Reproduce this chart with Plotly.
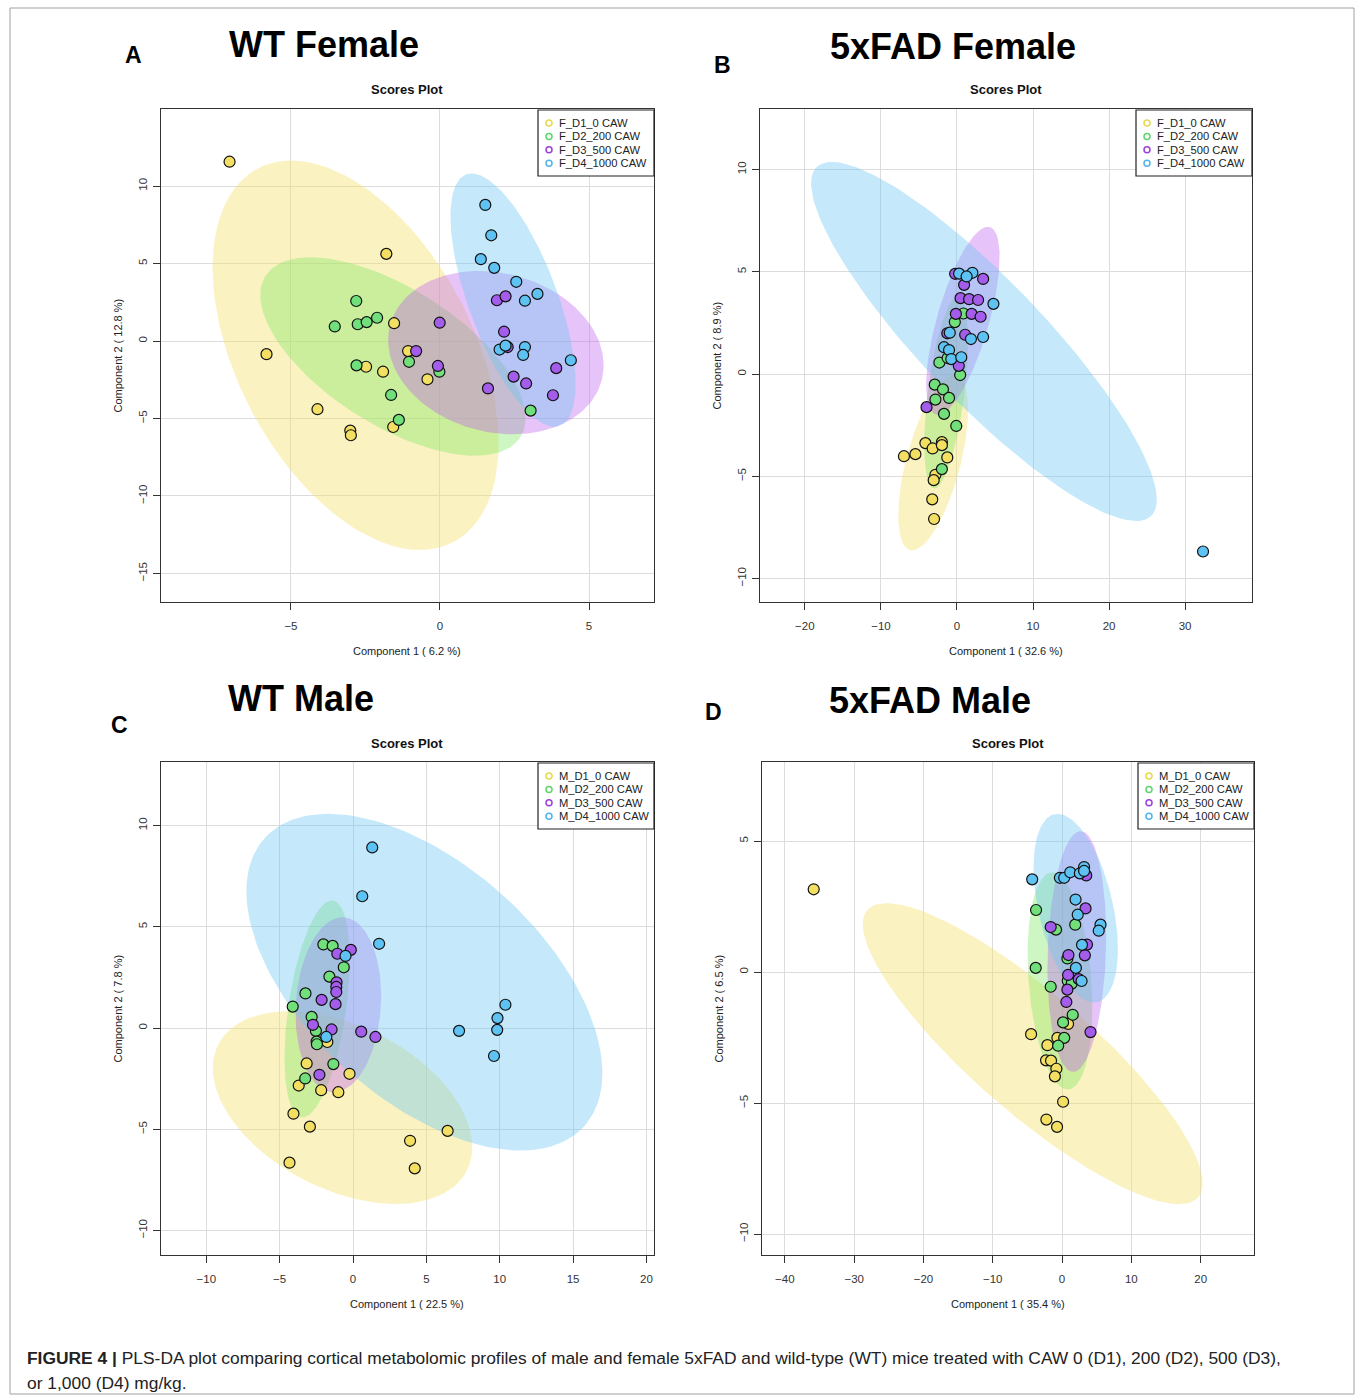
import numpy as np
import plotly.graph_objects as go

W, H = 1355, 1396

# ---------------- data (scores) ----------------
groups_F = ["F_D1_0 CAW", "F_D2_200 CAW", "F_D3_500 CAW", "F_D4_1000 CAW"]
groups_M = ["M_D1_0 CAW", "M_D2_200 CAW", "M_D3_500 CAW", "M_D4_1000 CAW"]

# Panel A: WT Female
A_D1_x = [-7.06, -1.80, -5.82, -1.54, -1.07, -2.48, -1.91, -0.42, -4.11, -3.01, -2.99, -1.57]
A_D1_y = [11.57, 5.62, -0.85, 1.15, -0.65, -1.66, -1.98, -2.47, -4.40, -5.78, -6.08, -5.55]
A_D2_x = [-2.81, -3.53, -2.76, -2.46, -2.11, -2.80, -1.04, -0.02, -1.64, -1.38, 3.04]
A_D2_y = [2.58, 0.94, 1.08, 1.22, 1.50, -1.57, -1.34, -1.98, -3.48, -5.09, -4.49]
A_D3_x = [-0.01, -0.80, -0.07, 1.91, 2.20, 2.15, 2.27, 1.61, 2.47, 2.89, 3.90, 3.79]
A_D3_y = [1.18, -0.65, -1.61, 2.63, 2.88, 0.60, -0.39, -3.06, -2.30, -2.74, -1.75, -3.50]
A_D4_x = [1.52, 1.72, 1.37, 1.82, 2.56, 2.85, 3.27, 2.00, 2.20, 2.85, 2.79, 4.39]
A_D4_y = [8.78, 6.82, 5.28, 4.72, 3.82, 2.60, 3.04, -0.55, -0.30, -0.39, -0.90, -1.24]

# Panel B: 5xFAD Female
B_D1_x = [-6.97, -5.46, -4.15, -3.20, -1.98, -1.98, -1.27, -2.83, -3.06, -3.25, -3.01]
B_D1_y = [-4.02, -3.92, -3.38, -3.64, -3.33, -3.48, -4.08, -4.93, -5.19, -6.13, -7.09]
B_D2_x = [-0.28, 0.85, -2.31, -1.22, 0.42, -2.92, -1.84, -1.04, -2.83, -1.70, -0.09, -1.98]
B_D2_y = [2.54, 2.96, 0.56, 0.78, -0.05, -0.52, -0.75, -1.17, -1.25, -1.95, -2.54, -4.65]
B_D3_x = [-0.24, 3.44, 0.94, 0.47, 1.60, 2.78, -0.14, 1.93, 3.11, 1.08, 0.24, -4.00, -1.27]
B_D3_y = [4.90, 4.65, 4.36, 3.71, 3.66, 3.62, 2.94, 2.94, 2.80, 1.92, 0.40, -1.62, 1.99]
B_D4_x = [0.28, 2.03, 1.27, 4.80, -0.94, 1.84, 3.44, -1.70, -1.04, -0.75, 0.57, 32.36]
B_D4_y = [4.91, 4.95, 4.77, 3.43, 2.02, 1.71, 1.81, 1.31, 1.17, 0.73, 0.82, -8.68]

# Panel C: WT Male
C_D1_x = [-3.16, -3.70, -2.17, -1.00, -0.24, -1.75, -4.06, -2.94, -4.33, 3.89, 4.21, 6.45]
C_D1_y = [-1.75, -2.84, -3.07, -3.17, -2.26, -0.69, -4.23, -4.87, -6.65, -5.57, -6.93, -5.08]
C_D2_x = [-2.02, -1.39, -0.63, -1.61, -3.24, -4.11, -2.82, -2.53, -2.48, -2.46, -1.34, -3.26]
C_D2_y = [4.13, 4.06, 3.00, 2.54, 1.71, 1.06, 0.55, -0.14, -0.67, -0.80, -1.78, -2.49]
C_D3_x = [-1.07, -0.15, -1.12, -1.14, -1.14, -2.14, -1.19, -2.73, -1.46, 0.56, 1.53, -2.29]
C_D3_y = [3.67, 3.86, 2.26, 2.03, 1.78, 1.39, 1.18, 0.16, -0.07, -0.18, -0.44, -2.31]
C_D4_x = [1.31, 0.63, 1.78, -0.51, -1.82, 10.39, 9.85, 9.83, 7.23, 9.61]
C_D4_y = [8.92, 6.51, 4.16, 3.56, -0.44, 1.15, 0.49, -0.09, -0.14, -1.38]

# Panel D: 5xFAD Male
D_D1_x = [-35.84, -4.47, -2.11, -0.67, 0.87, -2.31, -1.59, -0.82, -1.03, 0.15, -2.26, -0.72]
D_D1_y = [3.16, -2.37, -2.79, -2.51, -1.98, -3.37, -3.38, -3.69, -3.98, -4.95, -5.63, -5.91]
D_D2_x = [-3.75, -0.87, 1.90, 0.77, -3.80, -1.64, 0.82, 1.39, 1.54, 0.15, 0.31, -0.56]
D_D2_y = [2.37, 1.62, 1.81, 0.52, 0.16, -0.56, -0.33, -0.44, -1.63, -1.92, -2.51, -2.81]
D_D3_x = [3.49, 3.39, -1.64, 3.60, 0.92, 3.29, 0.87, 2.41, 0.77, 0.62, 4.11]
D_D3_y = [3.69, 2.43, 1.72, 1.05, 0.65, 0.64, -0.11, -0.27, -0.67, -1.14, -2.29]
D_D4_x = [-4.31, -0.31, 0.31, 1.18, 2.57, 3.18, 3.18, 1.95, 2.26, 5.55, 5.29, 2.88, 2.00, 2.82]
D_D4_y = [3.54, 3.60, 3.60, 3.81, 3.77, 4.01, 3.86, 2.77, 2.19, 1.81, 1.58, 1.04, 0.16, -0.34]

# 95% ellipses: centre, half x-extent, half y-extent, correlation (D1..D4)
A_ell_cx = [-2.83, -1.58, 1.875, 2.45]
A_ell_cy = [-0.92, -1.00, -0.75, 2.64]
A_ell_hx = [4.80, 4.45, 3.615, 2.10]
A_ell_hy = [12.56, 6.40, 5.27, 8.17]
A_ell_r = [-0.45, -0.62, -0.156, -0.66]

B_ell_cx = [-3.13, -1.42, 0.78, 3.55]
B_ell_cy = [-4.34, -0.90, 2.60, 1.59]
B_ell_hx = [4.59, 2.88, 4.83, 22.73]
B_ell_hy = [4.29, 4.70, 4.60, 8.78]
B_ell_r = [0.60, 0.54, 0.68, -0.88]

C_ell_cx = [-0.715, -2.445, -1.00, 4.865]
C_ell_cy = [-3.93, 0.945, 1.15, 2.265]
C_ell_hx = [8.845, 2.225, 2.92, 12.135]
C_ell_hy = [4.76, 5.355, 4.32, 8.315]
C_ell_r = [-0.41, 0.45, 0.10, -0.54]

D_ell_cx = [-4.235, -0.305, 2.13, 1.975]
D_ell_cy = [-3.115, -0.335, 0.785, 2.44]
D_ell_hx = [24.525, 4.675, 4.24, 6.085]
D_ell_hy = [5.745, 4.145, 4.595, 3.60]
D_ell_r = [-0.86, -0.24, 0.13, -0.43]

# axis ticks
A_xticks = [-5, 0, 5]; A_yticks = [-15, -10, -5, 0, 5, 10]
B_xticks = [-20, -10, 0, 10, 20, 30]; B_yticks = [-10, -5, 0, 5, 10]
C_xticks = [-10, -5, 0, 5, 10, 15, 20]; C_yticks = [-10, -5, 0, 5, 10]
D_xticks = [-40, -30, -20, -10, 0, 10, 20]; D_yticks = [-10, -5, 0, 5]

titles = ["WT Female", "5xFAD Female", "WT Male", "5xFAD Male"]
letters = ["A", "B", "C", "D"]
xtitles = ["Component 1 ( 6.2 %)", "Component 1 ( 32.6 %)", "Component 1 ( 22.5 %)", "Component 1 ( 35.4 %)"]
ytitles = ["Component 2 ( 12.8 %)", "Component 2 ( 8.9 %)", "Component 2 ( 7.8 %)", "Component 2 ( 6.5 %)"]

# ---------------- styles ----------------
point_cols = ["#F3E063", "#72E07A", "#A45CEB", "#5EC2F3"]
fill_cols = ["rgba(245,225,110,0.42)", "rgba(125,232,95,0.38)",
             "rgba(190,97,237,0.38)", "rgba(110,200,242,0.40)"]
legend_cols = ["#E8D84A", "#5CD66A", "#9B3FE0", "#4FB4EC"]
FONT = "Liberation Sans, Arial, sans-serif"

# panel frames in pixels: left, right, top, bottom
frames = [(161, 654, 109, 602), (760, 1252, 109, 602),
          (161, 654, 762, 1255), (762, 1254, 762, 1255)]
ranges = [((-9.36, 7.18), (-16.84, 14.97)),
          ((-25.9, 38.8), (-11.15, 12.96)),
          ((-13.09, 20.52), (-11.21, 13.14)),
          ((-43.3, 27.7), (-10.8, 8.02))]

def fx(px):
    return px / W

def fy(py):
    return 1 - py / H

panels = [
    dict(pts=[(A_D1_x, A_D1_y), (A_D2_x, A_D2_y), (A_D3_x, A_D3_y), (A_D4_x, A_D4_y)],
         ell=(A_ell_cx, A_ell_cy, A_ell_hx, A_ell_hy, A_ell_r), xt=A_xticks, yt=A_yticks, grp=groups_F),
    dict(pts=[(B_D1_x, B_D1_y), (B_D2_x, B_D2_y), (B_D3_x, B_D3_y), (B_D4_x, B_D4_y)],
         ell=(B_ell_cx, B_ell_cy, B_ell_hx, B_ell_hy, B_ell_r), xt=B_xticks, yt=B_yticks, grp=groups_F),
    dict(pts=[(C_D1_x, C_D1_y), (C_D2_x, C_D2_y), (C_D3_x, C_D3_y), (C_D4_x, C_D4_y)],
         ell=(C_ell_cx, C_ell_cy, C_ell_hx, C_ell_hy, C_ell_r), xt=C_xticks, yt=C_yticks, grp=groups_M),
    dict(pts=[(D_D1_x, D_D1_y), (D_D2_x, D_D2_y), (D_D3_x, D_D3_y), (D_D4_x, D_D4_y)],
         ell=(D_ell_cx, D_ell_cy, D_ell_hx, D_ell_hy, D_ell_r), xt=D_xticks, yt=D_yticks, grp=groups_M),
]

def ellipse(cx, cy, hx, hy, r, n=160):
    d = np.arccos(r)
    t = np.linspace(0, 2 * np.pi, n)
    return cx + hx * np.cos(t + d / 2), cy + hy * np.cos(t - d / 2)

fig = go.Figure()
layout = dict(width=W, height=H, margin=dict(l=0, r=0, t=0, b=0),
              paper_bgcolor="white", plot_bgcolor="white", showlegend=False,
              font=dict(family=FONT, color="#222"))
shapes = []
annotations = []

for k, p in enumerate(panels):
    sfx = "" if k == 0 else str(k + 1)
    xa, ya = "x" + sfx, "y" + sfx
    cxs, cys, hxs, hys, rs = p["ell"]
    for g in range(4):
        ex, ey = ellipse(cxs[g], cys[g], hxs[g], hys[g], rs[g])
        fig.add_trace(go.Scatter(x=ex, y=ey, mode="lines", fill="toself",
                                 fillcolor=fill_cols[g], line=dict(width=0),
                                 hoverinfo="skip", xaxis=xa, yaxis=ya))
    for g in range(4):
        x, y = p["pts"][g]
        fig.add_trace(go.Scatter(x=x, y=y, mode="markers", name=p["grp"][g],
                                 marker=dict(size=11, color=point_cols[g],
                                             line=dict(color="#111", width=1.2)),
                                 xaxis=xa, yaxis=ya))
    L, R, T, B = frames[k]
    (x0, x1), (y0, y1) = ranges[k]
    axcommon = dict(showline=True, mirror=True, linecolor="#333", linewidth=1,
                    ticks="outside", ticklen=7, tickcolor="#333", zeroline=False,
                    showgrid=True, gridcolor="#DCDCDC", gridwidth=1,
                    tickfont=dict(size=11.5, color="#333", family=FONT))
    layout["xaxis" + sfx] = dict(domain=[fx(L), fx(R)], range=[x0, x1], anchor=ya,
                                 tickvals=p["xt"], ticklabelstandoff=6, **axcommon)
    layout["yaxis" + sfx] = dict(domain=[fy(B), fy(T)], range=[y0, y1], anchor=xa,
                                 tickvals=p["yt"], tickangle=-90, ticklabelstandoff=1, **axcommon)
    cxp = (L + R) / 2
    # Scores Plot
    annotations.append(dict(x=fx(cxp), y=fy(T - 19), xref="paper", yref="paper",
                            text="<b>Scores Plot</b>", showarrow=False,
                            font=dict(size=13, color="#111"), xanchor="center", yanchor="middle"))
    # axis titles
    annotations.append(dict(x=fx(cxp), y=fy(B + 49), xref="paper", yref="paper",
                            text=xtitles[k], showarrow=False, font=dict(size=11, color="#222"),
                            xanchor="center", yanchor="middle"))
    annotations.append(dict(x=fx(L - 44), y=fy((T + B) / 2), xref="paper", yref="paper",
                            text=ytitles[k], showarrow=False, textangle=-90,
                            font=dict(size=11, color="#222"), xanchor="center", yanchor="middle"))
    # legend box
    lx0 = R - 116
    shapes.append(dict(type="rect", xref="paper", yref="paper",
                       x0=fx(lx0), x1=fx(R), y0=fy(T + 67), y1=fy(T + 1),
                       line=dict(color="#222", width=1.2), fillcolor="white"))
    for g in range(4):
        ry = T + 14 + g * 13.4
        cx_ = lx0 + 11
        shapes.append(dict(type="circle", xref="paper", yref="paper",
                           x0=fx(cx_ - 3), x1=fx(cx_ + 3), y0=fy(ry + 3), y1=fy(ry - 3),
                           line=dict(color=legend_cols[g], width=1.5)))
        annotations.append(dict(x=fx(lx0 + 19), y=fy(ry), xref="paper", yref="paper",
                                text=p["grp"][g], showarrow=False,
                                font=dict(size=11.2, color="#222"), xanchor="left", yanchor="middle"))

# big titles and panel letters
title_pos = [(324, 45), (953, 47), (301, 698), (930, 700)]
letter_pos = [(133, 55), (722, 65), (120, 725), (713, 712)]
for k in range(4):
    annotations.append(dict(x=fx(title_pos[k][0]), y=fy(title_pos[k][1]), xref="paper", yref="paper",
                            text="<b>" + titles[k] + "</b>", showarrow=False,
                            font=dict(size=36, color="#000", family=FONT),
                            xanchor="center", yanchor="middle"))
    annotations.append(dict(x=fx(letter_pos[k][0]), y=fy(letter_pos[k][1]), xref="paper", yref="paper",
                            text="<b>" + letters[k] + "</b>", showarrow=False,
                            font=dict(size=23, color="#000", family=FONT),
                            xanchor="center", yanchor="middle"))

# caption
annotations.append(dict(x=fx(25), y=fy(1358), xref="paper", yref="paper", xanchor="left", yanchor="middle",
                        text="<b>FIGURE 4 |</b> PLS-DA plot comparing cortical metabolomic profiles of male and female 5xFAD and wild-type (WT) mice treated with CAW 0 (D1), 200 (D2), 500 (D3),",
                        showarrow=False, font=dict(size=17.4, color="#222", family=FONT)))
annotations.append(dict(x=fx(25), y=fy(1383), xref="paper", yref="paper", xanchor="left", yanchor="middle",
                        text="or 1,000 (D4) mg/kg.", showarrow=False,
                        font=dict(size=17.4, color="#222", family=FONT)))

# outer figure border
shapes.append(dict(type="rect", xref="paper", yref="paper", x0=fx(10), x1=fx(1354),
                   y0=fy(1394), y1=fy(8), line=dict(color="#A0A0A0", width=1)))

layout["shapes"] = shapes
layout["annotations"] = annotations
fig.update_layout(**layout)
fig.write_html("out.html")
